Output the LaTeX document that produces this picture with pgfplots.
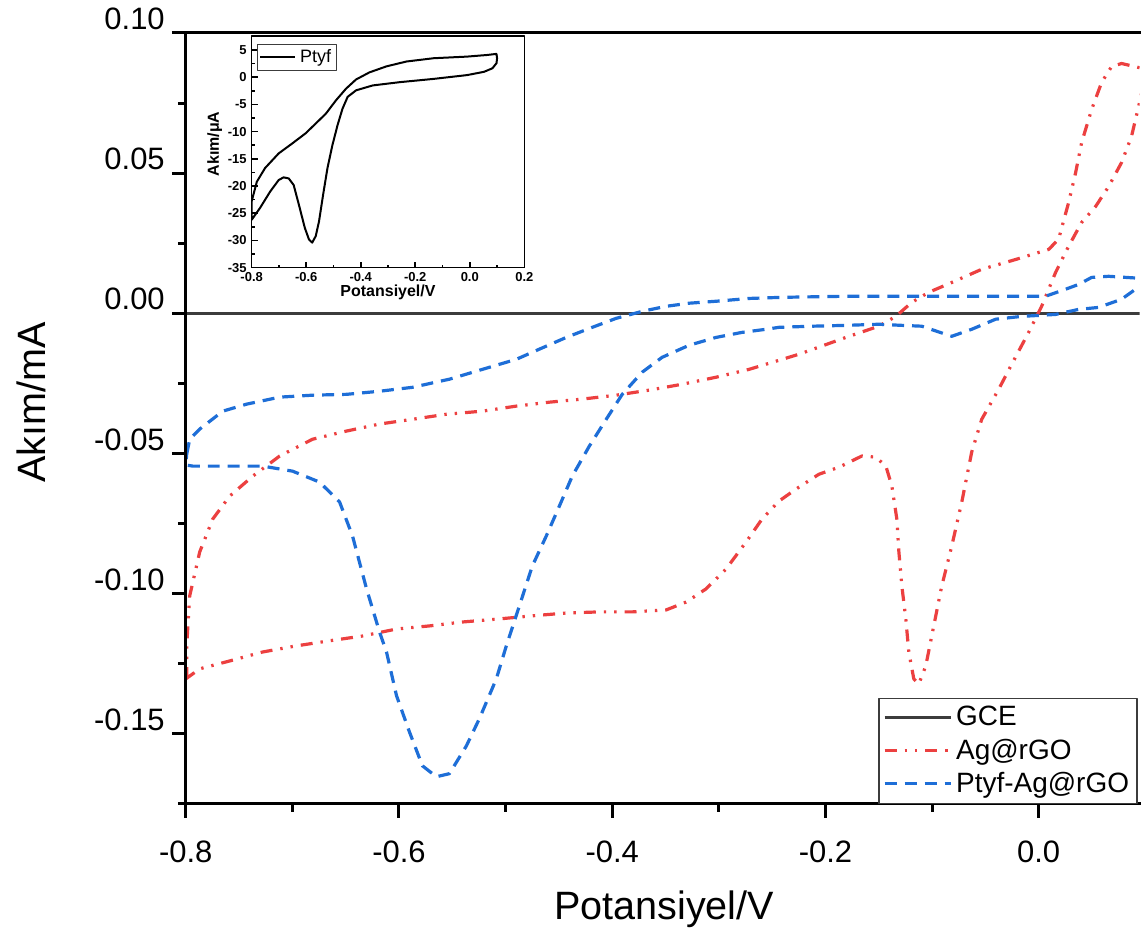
\documentclass[border=0pt]{standalone}
\usepackage{fontspec}
\setmainfont{Liberation Sans}
\usepackage{pgfplots}
\pgfplotsset{compat=1.18}
\definecolor{cred}{RGB}{236,64,64}
\definecolor{cblue}{RGB}{30,110,215}
\definecolor{cgce}{RGB}{60,60,60}
\begin{document}
\begin{tikzpicture}
\begin{axis}[
  at={(0,0)}, anchor=south west, name=main,
  scale only axis, width=477.5pt, height=386pt,
  xmin=-0.8, xmax=0.0946, ymin=-0.175, ymax=0.10,
  axis line style={draw=none},
  clip mode=individual,
  xtick={-0.8,-0.6,-0.4,-0.2,0.0}, xticklabels={-0.8,-0.6,-0.4,-0.2,0.0},
  minor xtick={-0.7,-0.5,-0.3,-0.1},
  ytick={-0.15,-0.10,-0.05,0,0.05,0.10}, yticklabels={-0.15,-0.10,-0.05,0.00,0.05,0.10},
  minor ytick={-0.175,-0.125,-0.075,-0.025,0.025,0.075},
  tick align=outside, xtick pos=left, ytick pos=left,
  major tick length=7pt, minor tick length=4pt,
  every tick/.style={black, line width=1.5pt},
  tick label style={font=\fontsize{15.5}{18}\selectfont},
  xticklabel style={yshift=-8pt},
  yticklabel style={yshift=7pt},
  xlabel={Potansiyel/V}, ylabel={Akım/mA},
  label style={font=\fontsize{19.8}{24}\selectfont},
  xlabel style={at={(axis description cs:0.5016,-0.137)}, anchor=center},
  ylabel style={at={(axis description cs:-0.162,0.521)}, anchor=center},
  legend style={at={(0.998,0)}, anchor=south east, draw=cgce, line width=0.6pt,
    fill=white, font=\fontsize{14}{16}\selectfont,
    inner xsep=2pt, inner ysep=2pt, row sep=1pt},
  legend cell align=left,
  legend image code/.code={\draw[#1] (0pt,0pt) -- (33pt,0pt);},
  line join=round,
]
\addplot[cgce, line width=1.5pt] coordinates {(-0.8,0) (0.1,0)};
\addlegendentry{GCE}
\addplot[cred, line width=1.6pt, dash pattern=on 6pt off 4pt on 1.2pt off 4pt on 1.2pt off 4pt] coordinates {
(-0.8000,-0.1304) (-0.7991,-0.1293) (-0.7991,-0.1186) (-0.7963,-0.1008) (-0.7869,-0.0851) (-0.7747,-0.0734) (-0.7588,-0.0652) (-0.7372,-0.0581) (-0.7119,-0.0509) (-0.6810,-0.0449) (-0.6492,-0.0420) (-0.6183,-0.0395) (-0.5874,-0.0378) (-0.5555,-0.0360) (-0.5218,-0.0349) (-0.4899,-0.0331) (-0.4590,-0.0317) (-0.4281,-0.0306) (-0.3963,-0.0292) (-0.3653,-0.0274) (-0.3344,-0.0253) (-0.3026,-0.0228) (-0.2717,-0.0200) (-0.2248,-0.0146) (-0.1808,-0.0086) (-0.1499,-0.0046) (-0.1340,-0.0011) (-0.1190,0.0039) (-0.1030,0.0075) (-0.0815,0.0110) (-0.0534,0.0157) (-0.0215,0.0192) (0.0094,0.0228) (0.0187,0.0264) (0.0281,0.0395) (0.0347,0.0502) (0.0403,0.0609) (0.0497,0.0727) (0.0590,0.0823) (0.0684,0.0880) (0.0778,0.0891) (0.0946,0.0876) (0.1000,0.0855)
(0.0946,0.0752) (0.0871,0.0631) (0.0778,0.0538) (0.0656,0.0452) (0.0534,0.0381) (0.0403,0.0324) (0.0281,0.0239) (0.0159,0.0146) (0.0028,0.0025) (-0.0094,-0.0068) (-0.0253,-0.0182) (-0.0375,-0.0271) (-0.0534,-0.0378) (-0.0628,-0.0495) (-0.0721,-0.0673) (-0.0815,-0.0830) (-0.0909,-0.0973) (-0.0984,-0.1115) (-0.1059,-0.1258) (-0.1124,-0.1322) (-0.1171,-0.1304) (-0.1218,-0.1208) (-0.1246,-0.1090) (-0.1283,-0.0973) (-0.1311,-0.0851) (-0.1330,-0.0734) (-0.1377,-0.0616) (-0.1433,-0.0545) (-0.1527,-0.0513) (-0.1658,-0.0509) (-0.1874,-0.0549) (-0.2061,-0.0574) (-0.2276,-0.0627) (-0.2436,-0.0670) (-0.2595,-0.0734) (-0.2745,-0.0816) (-0.2932,-0.0912) (-0.3120,-0.0983) (-0.3307,-0.1030) (-0.3494,-0.1058) (-0.3813,-0.1065) (-0.4122,-0.1065) (-0.4431,-0.1069) (-0.4749,-0.1079) (-0.5059,-0.1090) (-0.5405,-0.1101) (-0.5714,-0.1115) (-0.6023,-0.1126) (-0.6342,-0.1151) (-0.6651,-0.1168) (-0.6960,-0.1186) (-0.7279,-0.1208) (-0.7588,-0.1240) (-0.7869,-0.1268) (-0.8000,-0.1304)
};
\addlegendentry{Ag@rGO}
\addplot[cblue, line width=1.6pt, dash pattern=on 6pt off 4pt] coordinates {
(-0.7991,-0.0502) (-0.7963,-0.0449) (-0.7869,-0.0413) (-0.7653,-0.0349) (-0.7429,-0.0324) (-0.7119,-0.0299) (-0.6810,-0.0292) (-0.6492,-0.0289) (-0.6183,-0.0278) (-0.5874,-0.0264) (-0.5527,-0.0235) (-0.5218,-0.0200) (-0.4899,-0.0164) (-0.4684,-0.0128) (-0.4431,-0.0086) (-0.4187,-0.0050) (-0.3963,-0.0018) (-0.3719,0.0007) (-0.3494,0.0025) (-0.3279,0.0036) (-0.3026,0.0043) (-0.2717,0.0053) (-0.2407,0.0057) (-0.1780,0.0061) (-0.0843,0.0061) (0.0066,0.0061) (0.0253,0.0086) (0.0375,0.0103) (0.0497,0.0128) (0.0656,0.0132) (0.0946,0.0125) (0.1000,0.0120) (0.1000,0.0105)
(0.0946,0.0096) (0.0777,0.0050) (0.0562,0.0021) (0.0375,0.0014) (0.0159,-0.0004) (-0.0159,-0.0011) (-0.0403,-0.0021) (-0.0628,-0.0057) (-0.0815,-0.0082) (-0.0871,-0.0075) (-0.1096,-0.0046) (-0.1283,-0.0043) (-0.1499,-0.0039) (-0.1808,-0.0043) (-0.2126,-0.0046) (-0.2436,-0.0050) (-0.2557,-0.0057) (-0.2782,-0.0068) (-0.3026,-0.0086) (-0.3279,-0.0114) (-0.3532,-0.0157) (-0.3719,-0.0210) (-0.3906,-0.0289) (-0.4056,-0.0378) (-0.4215,-0.0474) (-0.4375,-0.0581) (-0.4496,-0.0688) (-0.4618,-0.0794) (-0.4749,-0.0901) (-0.4871,-0.1044) (-0.4993,-0.1186) (-0.5087,-0.1304) (-0.5246,-0.1446) (-0.5368,-0.1543) (-0.5527,-0.1642) (-0.5649,-0.1653) (-0.5780,-0.1614) (-0.5902,-0.1493) (-0.6023,-0.1364) (-0.6117,-0.1208) (-0.6183,-0.1136) (-0.6304,-0.0983) (-0.6436,-0.0794) (-0.6557,-0.0673) (-0.6745,-0.0602) (-0.6998,-0.0563) (-0.7279,-0.0545) (-0.7588,-0.0545) (-0.7934,-0.0545) (-0.8000,-0.0541) (-0.7991,-0.0502)
};
\addlegendentry{Ptyf-Ag@rGO}
\draw[black, line width=1.5pt, line cap=rect] (rel axis cs:1,1) -- (rel axis cs:0,1) -- (rel axis cs:0,0) -- (rel axis cs:1,0);
\end{axis}
\begin{axis}[
  at={(33pt,268.5pt)}, anchor=south west,
  scale only axis, width=136.5pt, height=116pt,
  xmin=-0.8, xmax=0.2, ymin=-35, ymax=7.6,
  axis background/.style={fill=white},
  axis line style={line width=0.8pt},
  tick align=inside, xtick pos=left, ytick pos=left,
  xtick={-0.8,-0.6,-0.4,-0.2,0.0,0.2}, xticklabels={-0.8,-0.6,-0.4,-0.2,0.0,0.2},
  minor xtick={-0.7,-0.5,-0.3,-0.1,0.1},
  ytick={-35,-30,-25,-20,-15,-10,-5,0,5}, yticklabels={-35,-30,-25,-20,-15,-10,-5,0,5},
  minor ytick={-32.5,-27.5,-22.5,-17.5,-12.5,-7.5,-2.5,2.5},
  major tick length=3pt, minor tick length=1.5pt,
  every tick/.style={black, line width=0.8pt},
  tick label style={font=\bfseries\fontsize{6.5}{8}\selectfont},
  xticklabel style={yshift=1pt},
  yticklabel style={xshift=1pt},
  xlabel={Potansiyel/V}, ylabel={Akım/μA},
  label style={font=\bfseries\fontsize{8}{10}\selectfont},
  xlabel style={at={(axis description cs:0.5,-0.108)}, anchor=center},
  ylabel style={at={(axis description cs:-0.1355,0.534)}, anchor=center},
  legend style={at={(0.018,0.966)}, anchor=north west, draw=cgce, line width=0.5pt,
    font=\fontsize{9}{11}\selectfont, inner xsep=1pt, inner ysep=0.5pt},
  legend image code/.code={\draw[#1] (0pt,0pt) -- (17.5pt,0pt);},
  line join=round,
]
\addplot[black, line width=1pt] coordinates {
(-0.800,-22.8) (-0.781,-19.2) (-0.751,-16.7) (-0.701,-14.0) (-0.652,-12.2) (-0.602,-10.3) (-0.565,-8.5) (-0.528,-6.7) (-0.491,-4.25) (-0.454,-2.1) (-0.417,-0.4) (-0.368,0.9) (-0.306,2.0) (-0.232,2.9) (-0.133,3.5) (-0.010,3.8) (0.064,4.1) (0.098,4.3) (0.100,3.5) (0.098,2.6) (0.083,1.65) (0.052,1.0) (-0.010,0.4) (-0.133,-0.3) (-0.257,-0.9) (-0.356,-1.5) (-0.417,-2.4) (-0.448,-3.6) (-0.467,-5.8) (-0.485,-8.8) (-0.504,-12.5) (-0.522,-16.7) (-0.538,-21.6) (-0.553,-26.5) (-0.565,-29.2) (-0.578,-30.4) (-0.590,-29.8) (-0.605,-27.7) (-0.627,-23.4) (-0.646,-19.8) (-0.664,-18.6) (-0.683,-18.4) (-0.701,-18.9) (-0.732,-21.0) (-0.769,-24.0) (-0.800,-26.2) (-0.800,-22.8)
};
\addlegendentry{Ptyf}
\end{axis}
\path (-93pt,-63.5pt) (477.5pt,402.5pt);
\end{tikzpicture}
\end{document}
